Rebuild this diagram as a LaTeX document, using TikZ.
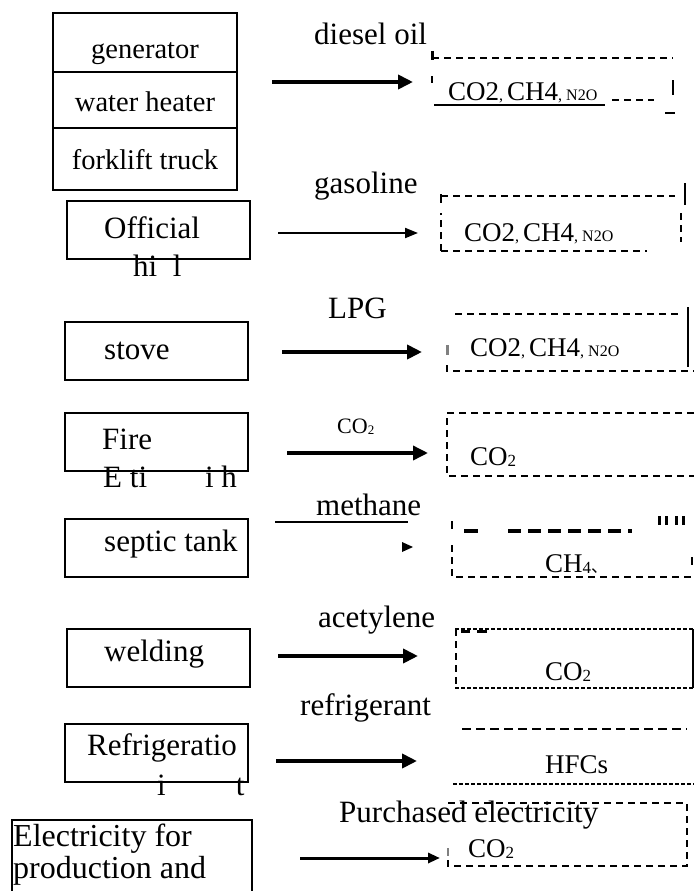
\documentclass[tikz,border=0pt]{standalone}
\usepackage{fontspec}
\setmainfont{Liberation Serif}
\newfontfamily\cjk{Noto Sans CJK SC}
\usetikzlibrary{arrows.meta,positioning}
\newcommand{\lowtwo}[1]{\raisebox{-1.5pt}{\fontsize{17}{17}\selectfont #1}}
\newcommand{\smallpart}[1]{{\fontsize{16}{16}\selectfont #1}}

\begin{document}
\begin{tikzpicture}[x=1pt,y=-1pt,
  tbl/.style={inner sep=0pt,anchor=base,font=\fontsize{28.5}{34}\selectfont},
  txt/.style={inner sep=0pt,anchor=base west,font=\fontsize{31}{36}\selectfont},
  gas/.style={inner sep=0pt,anchor=base west,font=\fontsize{27}{32}\selectfont},
  box/.style={draw,line width=2pt,minimum width=183pt,minimum height=58pt,inner sep=0pt},
  dsh/.style={line width=2pt,dash pattern=on 7pt off 5pt},
  fine/.style={line width=2pt,dash pattern=on 4pt off 2pt},
  flow/.style={line width=4pt,-{Triangle[length=15pt,width=14pt]}},
  thinflow/.style={line width=2pt,-{Triangle[length=13pt,width=10pt]}}]
\useasboundingbox (0,0) rectangle (694,891);

\node[draw,line width=1.3pt,minimum width=184pt,minimum height=177pt,inner sep=0pt] (equip) at (145,101.5) {};
\draw[line width=1.3pt] (53,72) -- (237,72);
\draw[line width=1.3pt] (53,128) -- (237,128);
\node[tbl] (gen) at (145,59) {generator};
\node[tbl] (heater) at (145,111) {water heater};
\node[tbl] (fork) at (145,169) {forklift truck};

\node[box] (car) at (158.5,230) {};
\node[txt] (cart) at (104,238) {Official};
\node[txt] (cart2) at (133,276) {hi\ \ l};
\node[box] (stove) at (156,351) {};
\node[txt] (stovet) at (104,359) {stove};
\node[box] (fire) at (156,442) {};
\node[txt] (firet) at (102,449) {Fire};
\node[txt] (firet2) at (103,487) {E\ ti\hspace{58pt}i\ h};
\node[box] (septic) at (156,547.5) {};
\node[txt] (septict) at (104,551) {septic tank};
\node[box] (weld) at (158.5,658) {};
\node[txt] (weldt) at (104,661) {welding};
\node[box] (refr) at (156,753) {};
\node[txt] (refrt) at (87,755) {Refrigeratio};
\node[txt] (refrt2) at (157,795) {i\hspace{70pt}t};
\node[draw,line width=2pt,minimum width=240pt,minimum height=80pt,inner sep=0pt] (elec) at (132,860) {};
\node[txt,font=\fontsize{32}{38}\selectfont] (elect) at (13,846) {Electricity for};
\node[txt,font=\fontsize{32}{38}\selectfont] (elect2) at (13,878) {production and};

\node[txt] (diesel) at (314,45) {diesel oil};
\node[txt] (gasoline) at (314,193) {gasoline};
\node[txt] (lpg) at (328,318) {LPG};
\node[txt,font=\fontsize{22}{26}\selectfont] (co2l) at (337,433) {CO\raisebox{-1pt}{\fontsize{13}{13}\selectfont 2}};
\node[txt] (methane) at (316,515) {methane};
\node[txt] (acet) at (318,627) {acetylene};
\node[txt] (refrig) at (300,715) {refrigerant};
\node[txt] (purch) at (339,822) {Purchased electricity};

\coordinate (a1) at (272,82);  \coordinate (b1) at (413,82);
\coordinate (a2) at (278,233); \coordinate (b2) at (418,233);
\coordinate (a3) at (282,352); \coordinate (b3) at (422,352);
\coordinate (a4) at (287,453); \coordinate (b4) at (428,453);
\coordinate (a6) at (278,656); \coordinate (b6) at (418,656);
\coordinate (a7) at (276,761); \coordinate (b7) at (417,761);
\coordinate (a8) at (300,858); \coordinate (b8) at (440,858);
\draw[flow] (a1) -- (b1);
\draw[thinflow] (a2) -- (b2);
\draw[flow,line width=4.5pt] (a3) -- (b3);
\draw[flow,line width=3.5pt] (a4) -- (b4);
\draw[line width=2pt] (275,522) -- (408,522);
\fill (402,542) -- (413,547) -- (402,552) -- cycle;
\draw[flow] (a6) -- (b6);
\draw[flow] (a7) -- (b7);
\draw[line width=3pt,-{Triangle[length=12pt,width=10pt]}] (a8) -- (b8);

\node[gas] (g1) at (448,100) {CO2\smallpart{, }CH4\smallpart{, N2O}};
\draw[dsh] (432,58) -- (673,58);
\draw[line width=3pt] (432,51) -- (432,60);
\draw[line width=1.5pt] (432,76) -- (432,83);
\draw[line width=1.2pt] (434,105) -- (605,105);
\draw[dsh] (612,100) -- (654,100);
\draw[line width=2pt] (673,80) -- (673,95);
\draw[line width=2pt] (665,113) -- (675,113);

\node[gas] (g2) at (464,241) {CO2\smallpart{, }CH4\smallpart{, N2O}};
\draw[dsh] (441,196) -- (675,196);
\draw[line width=2pt] (441,194) -- (441,203);
\draw[line width=2pt] (685,183) -- (685,205);
\draw[dsh] (681,213) -- (681,242);
\draw[dsh] (441,251) -- (441,213);
\draw[dsh] (441,251) -- (647,251);

\node[gas] (g3) at (470,356) {CO2\smallpart{, }CH4\smallpart{, N2O}};
\draw[dsh] (455,314) -- (682,314);
\draw[line width=2pt] (688,307) -- (688,367);
\draw[dsh] (447,365) -- (447,371) -- (694,371);
\draw[line width=3pt,gray] (447,345) -- (447,355);

\node[gas] (g4) at (470,465) {CO\lowtwo{2}};
\draw[dsh] (694,413) -- (447,413) -- (447,476) -- (694,476);

\node[gas] (g5) at (545,572) {CH\lowtwo{4}{\cjk\fontsize{17}{17}\selectfont 、}};
\draw[line width=4pt] (464,531) -- (478,531);
\draw[line width=4pt,dash pattern=on 13pt off 7pt] (508,531) -- (632,531);
\foreach \x in {659,666,676,683} \draw[line width=3pt] (\x,516) -- (\x,525);
\draw[line width=1.5pt] (452,521) -- (452,529);
\draw[dsh] (452,545) -- (452,577) -- (694,577);
\draw[line width=2pt] (692,557) -- (692,565);

\node[gas] (g6) at (545,680) {CO\lowtwo{2}};
\draw[fine] (455,629) -- (693,629);
\draw[line width=2pt] (693,629) -- (693,688);
\draw[fine] (455,688) -- (693,688);
\draw[dsh] (456,629) -- (456,688);
\draw[line width=3pt] (461,631) -- (470,631);
\draw[line width=3pt] (477,631) -- (487,631);

\node[gas] (g7) at (545,773) {HFCs};
\draw[dsh,dash pattern=on 9pt off 5pt] (462,729) -- (687,729);
\draw[fine] (453,784) -- (694,784);

\node[gas] (g8) at (468,857) {CO\lowtwo{2}};
\draw[dsh] (448,803) -- (687,803) -- (687,866) -- (448,866) -- (448,860);
\draw[line width=2.5pt,gray] (448,848) -- (448,856);
\end{tikzpicture}
\end{document}
